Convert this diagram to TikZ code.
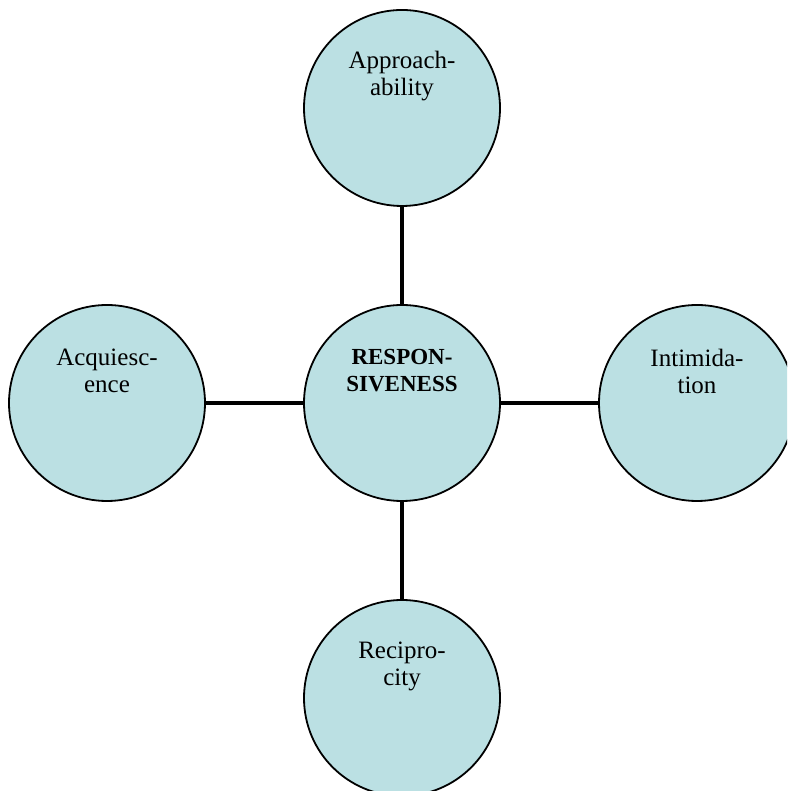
\documentclass[tikz,border=0pt]{standalone}
\usepackage{fontspec}
\setmainfont{Liberation Serif}
\definecolor{bubblefill}{HTML}{BBE0E3}
\begin{document}
\begin{tikzpicture}[x=1pt, y=1pt, line join=round,
	bubble/.style={circle, draw=black, line width=1.8pt, fill=bubblefill, minimum size=196pt, inner sep=0pt},
	word/.style={yshift=32pt, align=center, font=\fontsize{25}{27}\selectfont},
	link/.style={line width=4.5pt, line cap=butt}]
	\def\cx{402} \def\cy{388} \def\d{295} % centre and spacing
	\useasboundingbox (0,0) rectangle (787,791);
	\clip (0,0) rectangle (787,791);
	\node[bubble, label={[word, font=\fontsize{23}{27}\selectfont\bfseries]center:RESPON-\\SIVENESS}] (resp) at (\cx,\cy) {};
	\node[bubble, label={[word]center:Approach-\\ability}] (appr) at (\cx,\cy+\d) {};
	\node[bubble, label={[word]center:Recipro-\\city}] (reci) at (\cx,\cy-\d) {};
	\node[bubble, label={[word]center:Acquiesc-\\ence}] (acqu) at (\cx-\d,\cy) {};
	\node[bubble, label={[word]center:Intimida-\\tion}] (inti) at (\cx+\d,\cy) {};
	\foreach \n in {appr,reci,acqu,inti}
		\draw[link] (resp) -- (\n);
\end{tikzpicture}
\end{document}
